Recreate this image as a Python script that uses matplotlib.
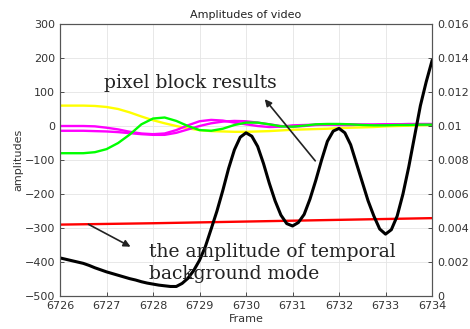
import numpy as np
import matplotlib
matplotlib.use('Agg')
from matplotlib import pyplot as plt

# frames for the smooth pixel-block curves (0.25 step)
frames_q = [6726 + 0.25 * i for i in range(33)]
yellow = [60, 60, 60, 59, 56, 50, 40, 28, 17, 8, 0, -7, -12, -15, -16, -17,
          -17, -16, -15, -13, -11, -10, -9, -8, -6, -5, -4, -3, -1, 0, 1, 2, 3]
green = [-80, -80, -80, -77, -68, -50, -25, 5, 22, 25, 15, 0, -12, -14, -8, 3,
         10, 10, 5, -1, -2, 1, 5, 6, 6, 5, 3, 2, 2, 3, 3, 4, 4]
magenta_a = [0, 0, 0, -1, -5, -10, -17, -22, -24, -22, -12, 2, 14, 18, 16, 10,
             5, 0, -3, -2, 2, 3, 4, 4, 3, 3, 4, 4, 5, 5, 5, 5, 5]
magenta_b = [-14, -14, -14, -15, -16, -18, -21, -24, -26, -26, -20, -10, 0, 8,
             13, 15, 14, 10, 5, 0, -2, 0, 3, 4, 5, 5, 4, 4, 5, 5, 6, 6, 6]

# temporal background mode (left axis)
red_frames = [6726, 6728, 6730, 6732, 6734]
red = [-290, -286, -281, -276, -271]

# black curve, right axis (0.125 step)
frames_e = [6726 + 0.125 * i for i in range(65)]
black = [0.00224, 0.00216, 0.00208, 0.00200, 0.00192, 0.00180, 0.00166, 0.00154,
         0.00142, 0.00132, 0.00122, 0.00112, 0.00102, 0.00094, 0.00084, 0.00076,
         0.00070, 0.00064, 0.00060, 0.00056, 0.00056, 0.00074, 0.00104, 0.00150,
         0.00210, 0.00290, 0.00394, 0.00500, 0.00620, 0.00750, 0.00860, 0.00934,
         0.00960, 0.00940, 0.00880, 0.00780, 0.00664, 0.00560, 0.00476, 0.00426,
         0.00412, 0.00432, 0.00480, 0.00570, 0.00680, 0.00800, 0.00910, 0.00970,
         0.00986, 0.00960, 0.00890, 0.00780, 0.00670, 0.00560, 0.00470, 0.00394,
         0.00364, 0.00390, 0.00470, 0.00600, 0.00760, 0.00940, 0.01120, 0.01260,
         0.01384]

xticks = list(range(6726, 6735))
tick_color = '#333333'

fig = plt.figure(figsize=(4.7, 3.29), dpi=100)
ax = fig.add_axes([0.1277, 0.1003, 0.7915, 0.8267])
ax2 = ax.twinx()

ax.plot(frames_q, yellow, color='#ffff00', lw=1.7)
ax.plot(frames_q, magenta_a, color='#ff00ff', lw=1.7)
ax.plot(frames_q, magenta_b, color='#ff00ff', lw=1.7)
ax.plot(frames_q, green, color='#00ff00', lw=1.7)
ax.plot(red_frames, red, color='#ff0000', lw=1.7)
ax2.plot(frames_e, black, color='black', lw=2.2)

ax.set_xlim(6726, 6734)
ax.set_ylim(-500, 300)
ax2.set_ylim(0, 0.016)
ax.set_xticks(xticks)
ax.set_yticks(range(-500, 301, 100))
ax2.set_yticks([0, 0.002, 0.004, 0.006, 0.008, 0.01, 0.012, 0.014, 0.016])
ax2.set_yticklabels(['0', '0.002', '0.004', '0.006', '0.008', '0.01',
                     '0.012', '0.014', '0.016'])
ax.grid(True, color='#e4e4e4', lw=0.6)
for a in (ax, ax2):
    a.tick_params(direction='in', labelsize=8, colors=tick_color,
                  length=3, width=0.6)
    for s in a.spines.values():
        s.set_color('#555555')
        s.set_linewidth(0.8)
ax.set_title('Amplitudes of video', fontsize=8, color='#222222', pad=4)
ax.set_xlabel('Frame', fontsize=8, color='#333333', labelpad=2)
ax.set_ylabel('amplitudes', fontsize=8, color='#333333', labelpad=1)

serif = ['DejaVu Serif']
fig.text(104 / 470, 1 - 88 / 329, 'pixel block results', family=serif,
         fontsize=13.5, color='#222222')
fig.text(149 / 470, 1 - 257 / 329, 'the amplitude of temporal', family=serif,
         fontsize=13.5, color='#222222')
fig.text(149 / 470, 1 - 279 / 329, 'background mode', family=serif,
         fontsize=13.5, color='#222222')
fig.add_artist(matplotlib.patches.FancyArrowPatch(
    (317 / 470, 1 - 163 / 329), (263 / 470, 1 - 97 / 329),
    transform=fig.transFigure, arrowstyle='-|>', mutation_scale=10,
    color='#222222', lw=1.2))
fig.add_artist(matplotlib.patches.FancyArrowPatch(
    (86 / 470, 1 - 223 / 329), (133 / 470, 1 - 248 / 329),
    transform=fig.transFigure, arrowstyle='-|>', mutation_scale=10,
    color='#222222', lw=1.2))

plt.savefig('out.png', dpi=100)
plt.close('all')
